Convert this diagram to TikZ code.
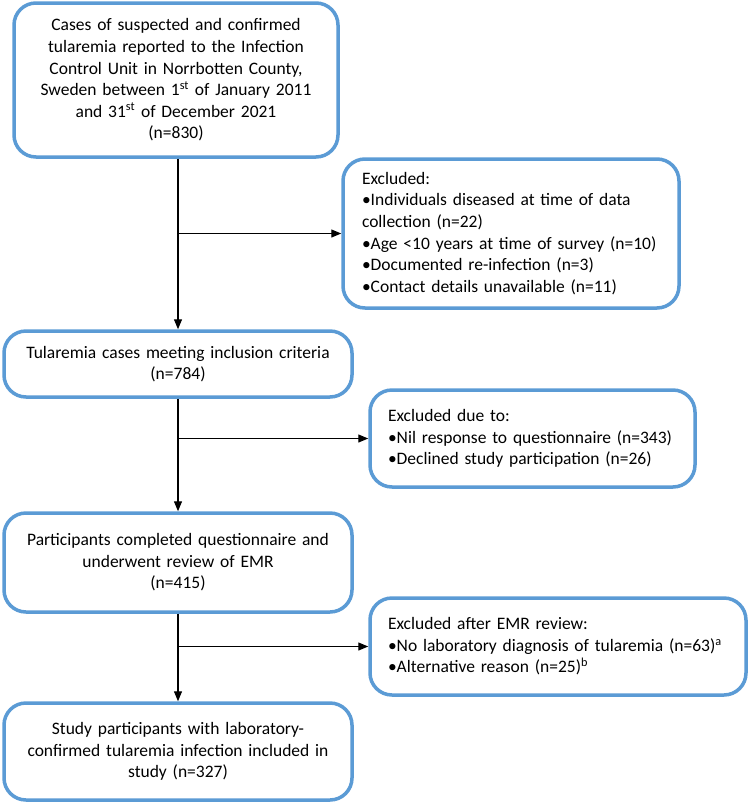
\documentclass[tikz,border=0pt]{standalone}
\usepackage{fontspec}
\setmainfont{Carlito}
\usetikzlibrary{arrows.meta}
\definecolor{boxblue}{HTML}{5B9BD5}
\tikzset{
  flowbox/.style={draw=boxblue, line width=3.5pt, rounded corners=22pt, fill=white,
    font=\fontsize{17.5}{21.6}\selectfont, inner sep=0pt},
  cbox/.style={flowbox, align=center},
  lbox/.style={flowbox, align=left},
  conn/.style={line width=1.2pt, -{Triangle[length=10pt,width=8pt]}},
  plain/.style={line width=1.2pt}
}
\begin{document}
\begin{tikzpicture}[x=1pt,y=-1pt]
\useasboundingbox (0,0) rectangle (750,807);
\node[cbox, minimum width=324pt, minimum height=154pt, text width=300pt] (b1) at (176,80)
  {Cases of suspected and confirmed\\tularemia reported to the Infection\\Control Unit in Norrbotten County,\\Sweden between 1\textsuperscript{st} of January 2011\\and 31\textsuperscript{st} of December 2021\\(n=830)};
\node[lbox, minimum width=336pt, minimum height=149pt, text width=298pt] (b2) at (511,233.5)
  {Excluded:\\•Individuals diseased at time of data\\collection (n=22)\\•Age <10 years at time of survey (n=10)\\•Documented re-infection (n=3)\\•Contact details unavailable (n=11)};
\node[cbox, minimum width=348pt, minimum height=66pt, text width=330pt] (b3) at (178,364)
  {Tularemia cases meeting inclusion criteria\\(n=784)};
\node[lbox, minimum width=325pt, minimum height=97pt, text width=289pt] (b4) at (532.5,438.5)
  {Excluded due to:\\•Nil response to questionnaire (n=343)\\•Declined study participation (n=26)};
\node[cbox, minimum width=348pt, minimum height=99pt, text width=330pt] (b5) at (178,562.5)
  {Participants completed questionnaire and\\underwent review of EMR\\(n=415)};
\node[lbox, minimum width=376pt, minimum height=97pt, text width=340pt] (b6) at (558,646.5)
  {Excluded after EMR review:\\•No laboratory diagnosis of tularemia (n=63)\textsuperscript{a}\\•Alternative reason (n=25)\textsuperscript{b}};
\node[cbox, minimum width=348pt, minimum height=97pt, text width=330pt] (b7) at (178,751.5)
  {Study participants with laboratory-\\confirmed tularemia infection included in\\study (n=327)};
\draw[conn] (b1.south -| b3.north) -- (b3.north);
\draw[conn] (b2.west -| b3.north) -- (b2.west);
\draw[conn] (b3.south) -- (b5.north);
\draw[conn] (b4.west -| b3.north) -- (b4.west);
\draw[conn] (b5.south) -- (b7.north);
\draw[conn] (b6.west -| b5.south) -- (b6.west);
\end{tikzpicture}
\end{document}
